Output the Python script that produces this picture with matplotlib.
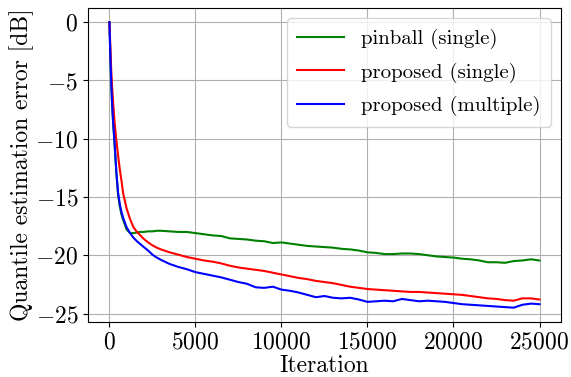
import matplotlib
matplotlib.use("Agg")
import matplotlib.pyplot as plt

plt.rcParams['font.family'] = ['cmr10', 'DejaVu Serif']
plt.rcParams['mathtext.fontset'] = 'cm'
plt.rcParams['axes.formatter.use_mathtext'] = True

iterations = [0, 50, 100, 150, 200, 300, 400, 500, 600, 700, 800, 1000, 1200, 1400,
              1600, 1800, 2000, 2250, 2500, 2750, 3000, 3500, 4000, 4500, 5000, 5500,
              6000, 6500, 7000, 7500, 8000, 8500, 9000, 9500, 10000, 10500, 11000,
              11500, 12000, 12500, 13000, 13500, 14000, 14500, 15000, 15500, 16000,
              16500, 17000, 17500, 18000, 18500, 19000, 19500, 20000, 20500, 21000,
              21500, 22000, 22500, 23000, 23500, 24000, 24500, 25000]

pinball_single = [0, -2.8, -5.0, -6.9, -8.3, -10.5, -12.9, -14.8, -15.8, -16.5, -17.0,
                  -17.8, -18.1, -18.1, -18.05, -18.0, -18.0, -17.95, -17.95, -17.9,
                  -17.9, -17.95, -18.0, -18.0, -18.1, -18.2, -18.3, -18.35, -18.55,
                  -18.6, -18.65, -18.75, -18.8, -18.95, -18.9, -19.0, -19.1, -19.2,
                  -19.25, -19.3, -19.35, -19.45, -19.5, -19.6, -19.75, -19.8, -19.9,
                  -19.9, -19.85, -19.85, -19.9, -20.0, -20.1, -20.15, -20.2, -20.3,
                  -20.35, -20.45, -20.6, -20.6, -20.65, -20.5, -20.45, -20.35, -20.45]

proposed_single = [0, -2.0, -4.0, -5.4, -6.6, -8.6, -10.1, -11.4, -12.6, -13.6, -14.7,
                   -16.0, -16.9, -17.6, -18.0, -18.3, -18.6, -18.9, -19.15, -19.35,
                   -19.5, -19.75, -19.95, -20.15, -20.3, -20.45, -20.55, -20.7, -20.9,
                   -21.05, -21.15, -21.25, -21.35, -21.5, -21.65, -21.8, -21.95, -22.05,
                   -22.2, -22.3, -22.4, -22.55, -22.7, -22.8, -22.9, -22.95, -23.0,
                   -23.05, -23.1, -23.15, -23.15, -23.2, -23.25, -23.3, -23.35, -23.4,
                   -23.5, -23.6, -23.7, -23.75, -23.85, -23.9, -23.7, -23.7, -23.8]

proposed_multiple = [0, -2.8, -5.0, -6.8, -8.2, -10.4, -12.8, -14.6, -15.6, -16.3, -16.8,
                     -17.6, -18.1, -18.5, -18.8, -19.05, -19.3, -19.6, -19.95, -20.2,
                     -20.4, -20.75, -21.0, -21.2, -21.45, -21.6, -21.75, -21.9, -22.1,
                     -22.3, -22.45, -22.75, -22.8, -22.7, -22.95, -23.05, -23.2, -23.4,
                     -23.6, -23.5, -23.65, -23.7, -23.65, -23.8, -24.0, -23.95, -23.9,
                     -23.95, -23.75, -23.85, -23.95, -23.9, -23.95, -24.0, -24.1, -24.2,
                     -24.25, -24.3, -24.35, -24.4, -24.45, -24.5, -24.25, -24.15, -24.2]

labels = ["pinball (single)", "proposed (single)", "proposed (multiple)"]
colors = ["green", "red", "blue"]

fig = plt.figure(figsize=(5.71, 3.77), dpi=100)
ax = fig.add_axes([0.154, 0.146, 0.8285, 0.833])

for series, lab, col in zip([pinball_single, proposed_single, proposed_multiple], labels, colors):
    ax.plot(iterations, series, color=col, lw=1.5, label=lab)

ax.set_xticks([0, 5000, 10000, 15000, 20000, 25000])
ax.set_yticks([0, -5, -10, -15, -20, -25])
ax.grid(True, color='#b0b0b0', lw=0.8)
ax.tick_params(labelsize=17, length=3.5)
ax.set_xlabel("Iteration", fontsize=17, labelpad=0.5)
ax.set_ylabel("Quantile estimation error [dB]", fontsize=17, labelpad=1)
ax.legend(loc='upper right', fontsize=15, framealpha=0.8, handlelength=2.25,
          labelspacing=0.65, borderpad=0.5)

fig.savefig("out.png", dpi=100)
